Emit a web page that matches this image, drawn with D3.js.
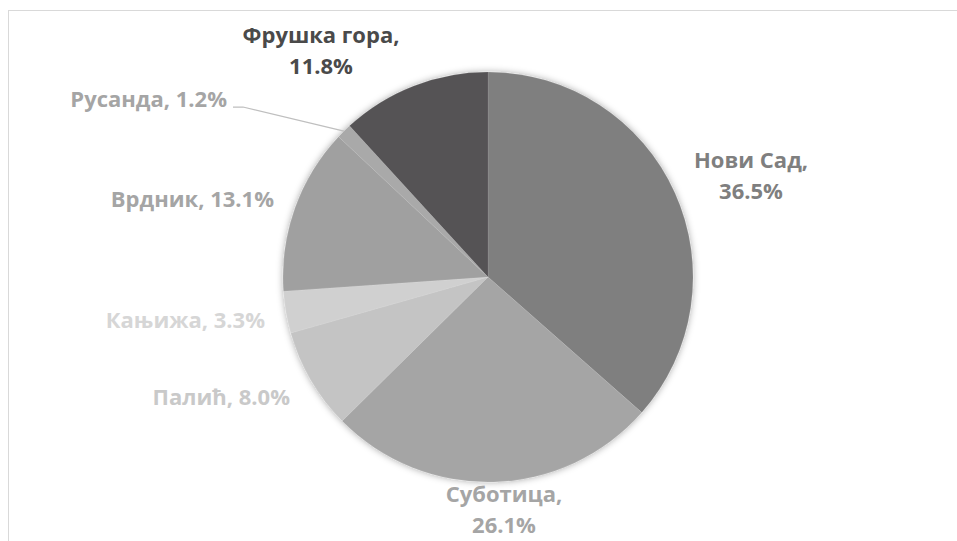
<!DOCTYPE html>
<html>
<head>
<meta charset="utf-8">
<script src="https://cdn.jsdelivr.net/npm/d3@7"></script>
<style>
  html, body { margin: 0; padding: 0; background: #ffffff; }
  svg { display: block; }
  text { font-family: "Open Sans", "Noto Sans", sans-serif; font-weight: 700; font-size: 22px; }
</style>
</head>
<body>
<svg id="chart" width="957" height="541"></svg>
<script>
// Share of overnight stays by destination (percent)
const categories = ["Нови Сад", "Суботица", "Палић", "Кањижа", "Врдник", "Русанда", "Фрушка гора"];
const values = [36.5, 26.1, 8.0, 3.3, 13.1, 1.2, 11.8];

// Slice fills and matching label colours
const sliceColors = ["#7f7f7f", "#a5a5a5", "#c4c4c4", "#d0d0d0", "#a0a0a0", "#a9a9a9", "#545254"];
const labelColors = ["#7f7f7f", "#a5a5a5", "#c9c9c9", "#d6d6d6", "#a5a5a5", "#a5a5a5", "#4a4a4a"];

// Label placement: offset of the first baseline from the pie centre, anchor, two-line split
const labelLayout = [
  { dx: 263, dy: -109, anchor: "middle", split: true },
  { dx: 16, dy: 225, anchor: "middle", split: true },
  { dx: -198, dy: 128, anchor: "end", split: false },
  { dx: -223, dy: 51, anchor: "end", split: false },
  { dx: -214, dy: -70, anchor: "end", split: false },
  { dx: -261, dy: -170, anchor: "end", split: false, leader: true },
  { dx: -167, dy: -234, anchor: "middle", split: true }
];

const width = 957, height = 541;
const cx = 488, cy = 277, radius = 205;
const lineGap = 31;

const svg = d3.select("#chart");

// Chart area frame
svg.append("rect")
  .attr("x", 8.5).attr("y", 10.5)
  .attr("width", width + 20).attr("height", height + 20)
  .attr("fill", "#ffffff")
  .attr("stroke", "#d9d9d9").attr("stroke-width", 1);

// Soft glow around the pie
const defs = svg.append("defs");
const f = defs.append("filter").attr("id", "glow")
  .attr("x", "-10%").attr("y", "-10%").attr("width", "120%").attr("height", "120%");
f.append("feDropShadow")
  .attr("dx", 0).attr("dy", 0).attr("stdDeviation", 3.5)
  .attr("flood-color", "#000").attr("flood-opacity", 0.35);

const data = categories.map((c, i) => ({ name: c, value: values[i], i }));

const pie = d3.pie().value(d => d.value).sort(null);
const arcs = pie(data);
const arc = d3.arc().innerRadius(0).outerRadius(radius);

const g = svg.append("g").attr("transform", `translate(${cx},${cy})`);

g.append("g").attr("filter", "url(#glow)")
  .selectAll("path")
  .data(arcs)
  .join("path")
  .attr("d", arc)
  .attr("fill", d => sliceColors[d.data.i])
  .attr("stroke", "rgba(255,255,255,0.12)")
  .attr("stroke-width", 0.75);

// Labels
const fmt = d3.format(".1f");
arcs.forEach(a => {
  const i = a.data.i;
  const L = labelLayout[i];
  const t = g.append("text")
    .attr("text-anchor", L.anchor)
    .attr("fill", labelColors[i]);
  if (L.split) {
    t.append("tspan").attr("x", L.dx).attr("y", L.dy).text(a.data.name + ",");
    t.append("tspan").attr("x", L.dx).attr("y", L.dy + lineGap).text(fmt(a.data.value) + "%");
  } else {
    t.attr("x", L.dx).attr("y", L.dy).text(a.data.name + ", " + fmt(a.data.value) + "%");
  }
  if (L.leader) {
    const mid = (a.startAngle + a.endAngle) / 2;
    const px = Math.sin(mid) * radius, py = -Math.cos(mid) * radius;
    g.append("polyline")
      .attr("points", [[L.dx + 6, L.dy], [L.dx + 16, L.dy], [px, py]].map(p => p.join(",")).join(" "))
      .attr("fill", "none")
      .attr("stroke", "#bfbfbf")
      .attr("stroke-width", 1.25);
  }
});
</script>
</body>
</html>
